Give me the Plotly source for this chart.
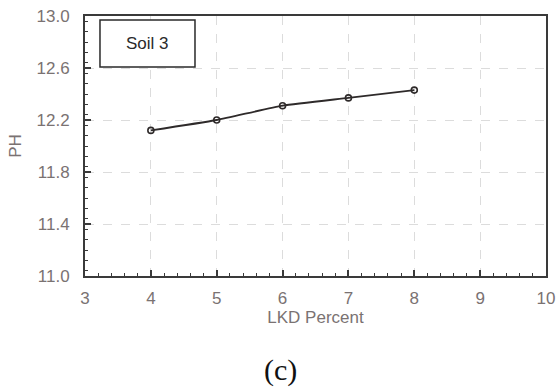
import plotly.graph_objects as go

lkd_percent = [4, 5, 6, 7, 8]
ph_values = [12.12, 12.20, 12.31, 12.37, 12.43]
series_name = "Soil 3"
x_ticks = [3, 4, 5, 6, 7, 8, 9, 10]
y_ticks = [11.0, 11.4, 11.8, 12.2, 12.6, 13.0]

fig = go.Figure()
fig.add_trace(go.Scatter(
    x=lkd_percent, y=ph_values, mode="lines+markers", name=series_name,
    line=dict(color="#2e2a2a", width=1.8, shape="spline", smoothing=0.5),
    marker=dict(symbol="circle-open", size=6, color="#2e2a2a", line=dict(width=1.6)),
    showlegend=False,
))

label_font = dict(family="Liberation Sans, Arial", size=17, color="#7a7272")

axis_common = dict(
    showline=True, linecolor="#3a3a3a", linewidth=2, mirror=True,
    ticks="inside", ticklen=6, tickwidth=1.5, tickcolor="#3a3a3a",
    showgrid=True, gridcolor="#dcdcdc", griddash="dash", gridwidth=1,
    zeroline=False, ticklabeloverflow="allow",
    tickfont=label_font,
)

fig.update_xaxes(
    range=[3, 10], tickvals=x_ticks, ticklabelstandoff=6,
    minor=dict(dtick=0.2, ticks="inside", ticklen=3, tickwidth=1.2, tickcolor="#3a3a3a", showgrid=False),
    title=dict(text="LKD Percent", font=dict(family="Liberation Sans, Arial", size=17, color="#7a7272"), standoff=4),
    **axis_common,
)
fig.update_yaxes(
    range=[11.0, 13.0], tickvals=y_ticks, tickformat=".1f", ticklabelstandoff=10,
    minor=dict(dtick=0.08, ticks="inside", ticklen=3, tickwidth=1.2, tickcolor="#3a3a3a", showgrid=False),
    title=dict(text="PH", font=dict(family="Liberation Sans, Arial", size=17, color="#7a7272"), standoff=11),
    **axis_common,
)

fig.add_shape(type="rect", xref="paper", yref="paper",
              x0=0.0325, x1=0.2386, y0=0.804, y1=0.985,
              line=dict(color="#2a2a2a", width=1.5), fillcolor="white")
fig.add_annotation(xref="paper", yref="paper", x=0.1355, y=0.8945,
                   xanchor="center", yanchor="middle",
                   text=series_name, showarrow=False,
                   font=dict(family="Liberation Sans, Arial", size=17, color="#2a2a2a"))
fig.add_annotation(xref="paper", yref="paper", x=0.423, y=-0.3615,
                   xanchor="center", yanchor="middle",
                   text="(c)", showarrow=False,
                   font=dict(family="Liberation Serif, Times New Roman", size=30, color="#111"))

fig.update_layout(
    width=559, height=391,
    margin=dict(l=85, r=13, t=16, b=115, autoexpand=False),
    paper_bgcolor="white", plot_bgcolor="white",
)
fig.write_html("out.html", config={"displayModeBar": False},
               post_script="document.body.style.margin='0';document.body.style.overflow='hidden';")
